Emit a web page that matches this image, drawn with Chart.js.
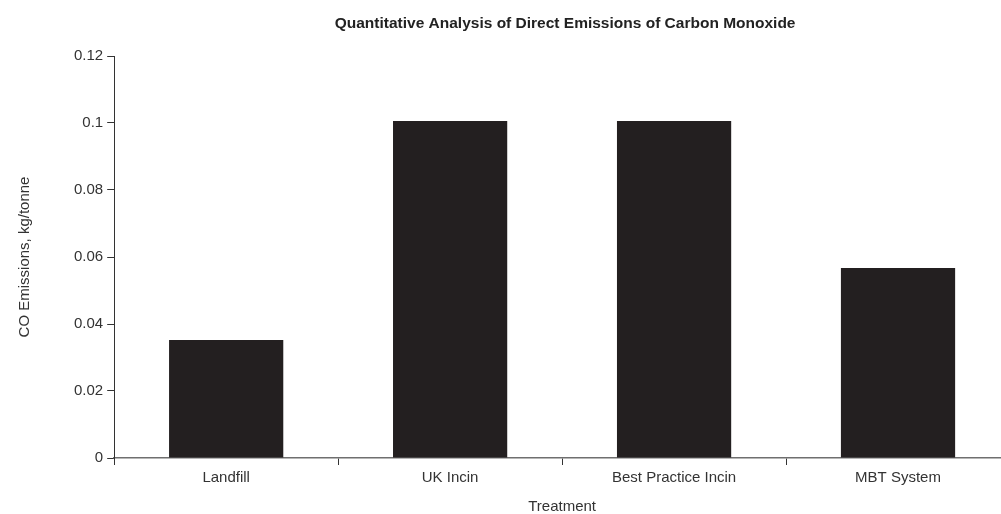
<!DOCTYPE html>
<html>
<head>
<meta charset="utf-8">
<script src="https://cdn.jsdelivr.net/npm/chart.js@4/dist/chart.umd.min.js"></script>
<style>
  html, body { margin: 0; padding: 0; background: #fff; overflow: hidden; }
  /* plot runs a few px past the right edge of the window, as in the original */
  #wrap { position: relative; width: 1010px; height: 514px; }
</style>
</head>
<body>
<div id="wrap"><canvas id="coChart"></canvas></div>
<script>
const categories = ['Landfill', 'UK Incin', 'Best Practice Incin', 'MBT System'];
const coEmissions = [0.0352, 0.1006, 0.1006, 0.0567];
const yTicks = [0, 0.02, 0.04, 0.06, 0.08, 0.1, 0.12];

const chartTitle = 'Quantitative Analysis of Direct Emissions of Carbon Monoxide';
const textColor = '#333333';
const fontFamily = '"Liberation Sans", Arial, Helvetica, sans-serif';

// title sits over the plot area
const plotTitle = {
  id: 'plotTitle',
  afterDraw(chart) {
    const { ctx, chartArea } = chart;
    ctx.save();
    ctx.font = 'bold 15.5px ' + fontFamily;
    ctx.fillStyle = '#222222';
    ctx.textAlign = 'center';
    ctx.textBaseline = 'middle';
    ctx.fillText(chartTitle, (chartArea.left + chartArea.right) / 2 + 3, 24);
    ctx.restore();
  }
};

document.addEventListener('DOMContentLoaded', () => {
  const ctx = document.getElementById('coChart');

  new Chart(ctx, {
    type: 'bar',
    data: {
      labels: categories,
      datasets: [{
        data: coEmissions,
        backgroundColor: '#231f20',
        borderWidth: 0,
        categoryPercentage: 1,
        barPercentage: 0.51
      }]
    },
    options: {
      responsive: true,
      maintainAspectRatio: false,
      animation: false,
      layout: { padding: { top: 56, right: 0, left: 0, bottom: 0 } },
      plugins: {
        legend: { display: false },
        tooltip: { enabled: false },
        title: { display: false }
      },
      scales: {
        x: {
          offset: true,
          grid: {
            offset: true,
            drawOnChartArea: false,
            drawTicks: true,
            tickLength: 7,
            tickColor: '#333333'
          },
          border: { display: true, color: '#6f6f6f', width: 1.5 },
          ticks: {
            color: textColor,
            padding: 4,
            font: { family: fontFamily, size: 15 }
          },
          title: {
            display: true,
            text: 'Treatment',
            color: textColor,
            padding: { top: 8, bottom: 0 },
            font: { family: fontFamily, size: 15, lineHeight: 1 }
          }
        },
        y: {
          min: 0,
          max: 0.12,
          afterBuildTicks(axis) {
            axis.ticks = yTicks.map(v => ({ value: v }));
          },
          grid: {
            drawOnChartArea: false,
            drawTicks: true,
            tickLength: 7,
            tickColor: '#333333'
          },
          border: { display: true, color: '#333333', width: 1 },
          ticks: {
            color: textColor,
            padding: 4,
            font: { family: fontFamily, size: 15 },
            callback: v => String(v)
          },
          title: {
            display: true,
            text: 'CO Emissions, kg/tonne',
            color: textColor,
            padding: { top: 16, bottom: 36 },
            font: { family: fontFamily, size: 15 }
          }
        }
      }
    },
    plugins: [plotTitle]
  });
});
</script>
</body>
</html>
